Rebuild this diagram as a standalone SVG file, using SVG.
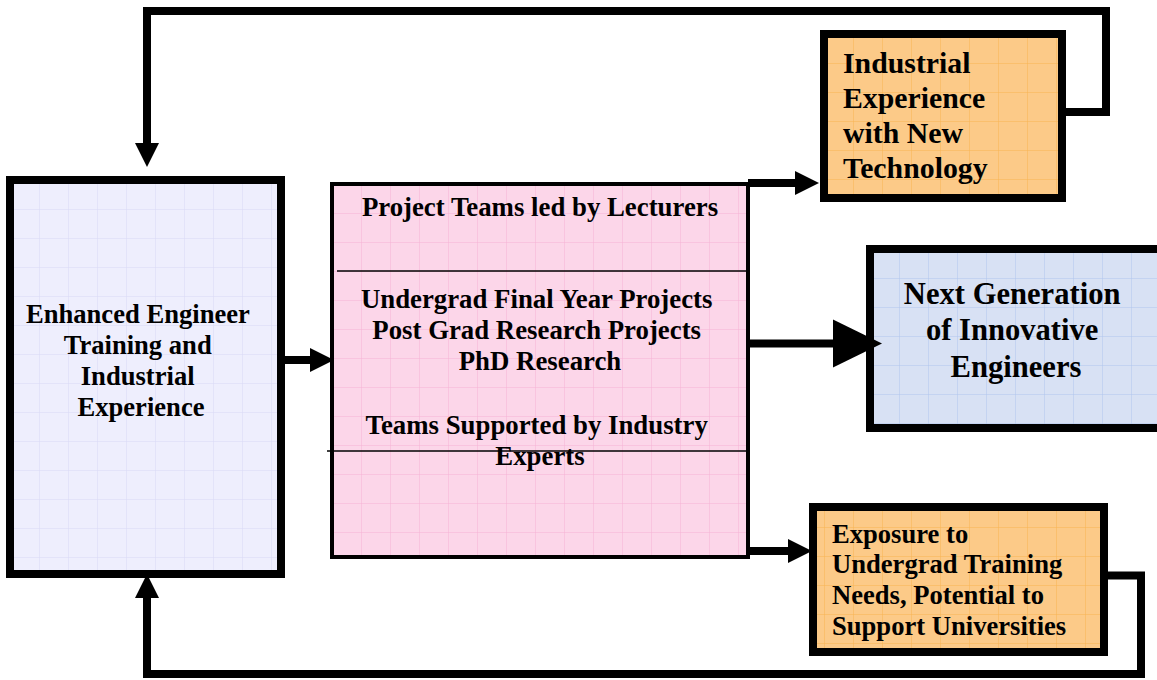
<svg xmlns="http://www.w3.org/2000/svg" width="1157" height="680" viewBox="0 0 1157 680">
<style>
.t{font-family:"Liberation Serif","Times New Roman",serif;font-weight:bold;fill:#000}
.c{text-anchor:middle}
.box{stroke:#000;stroke-width:8}
.con{fill:none;stroke:#000;stroke-width:8;stroke-linejoin:miter}
.div{stroke:#000;stroke-width:1.6}
</style>
<defs>
<pattern id="gL" patternUnits="userSpaceOnUse" width="29" height="29" x="10" y="180">
<rect width="29" height="29" fill="#eeeefd"/>
<path d="M29 0H0V29" fill="none" stroke="#d9d9f6" stroke-width="1"/>
</pattern>
<pattern id="gP" patternUnits="userSpaceOnUse" width="29" height="29" x="332" y="184">
<rect width="29" height="29" fill="#fcd6e9"/>
<path d="M29 0H0V29" fill="none" stroke="#f6b2d6" stroke-width="1"/>
</pattern>
<pattern id="gO" patternUnits="userSpaceOnUse" width="29" height="29" x="824" y="34">
<rect width="29" height="29" fill="#fcca88"/>
<path d="M29 0H0V29" fill="none" stroke="#f8b452" stroke-width="1"/>
</pattern>
<pattern id="gB" patternUnits="userSpaceOnUse" width="29" height="29" x="870" y="249">
<rect width="29" height="29" fill="#d8e1f4"/>
<path d="M29 0H0V29" fill="none" stroke="#b0c6ee" stroke-width="1"/>
</pattern>
<marker id="ah" markerUnits="userSpaceOnUse" markerWidth="24" markerHeight="24" refX="0" refY="12" orient="auto" overflow="visible">
<path d="M0 0L24 12L0 24Z" fill="#000"/>
</marker>
<marker id="ahBig" markerUnits="userSpaceOnUse" markerWidth="49" markerHeight="48" refX="0" refY="24" orient="auto" overflow="visible">
<path d="M0 0L49 24L0 48Z" fill="#000"/>
</marker>
</defs>
<rect width="1157" height="680" fill="#fff"/>

<g id="node-enhanced">
<rect class="box" x="10" y="180" width="271" height="394" fill="url(#gL)"/>
<text class="t c" font-size="26.6" x="141">
<tspan x="141" y="323">Enhanced Engineer</tspan>
<tspan x="141" y="354">Training and</tspan>
<tspan x="141" y="385">Industrial</tspan>
<tspan x="141" y="416">Experience</tspan>
</text>
</g>

<g id="node-projects">
<rect x="332" y="184" width="416" height="373" fill="url(#gP)" stroke="#000" stroke-width="4"/>
<line class="div" x1="337" y1="271" x2="746" y2="271"/>
<line class="div" x1="327" y1="451" x2="746" y2="451"/>
<text class="t c" font-size="26.8" x="540" y="216">Project Teams led by Lecturers</text>
<text class="t c" font-size="26.8" x="540">
<tspan x="540" y="308">Undergrad Final Year Projects</tspan>
<tspan x="540" y="339">Post Grad Research Projects</tspan>
<tspan x="540" y="370">PhD Research</tspan>
</text>
<text class="t c" font-size="26.8" x="540">
<tspan x="540" y="434">Teams Supported by Industry</tspan>
<tspan x="540" y="465">Experts</tspan>
</text>
</g>

<g id="node-industrial">
<rect class="box" x="824" y="34" width="238" height="164" fill="url(#gO)"/>
<text class="t" font-size="29.8">
<tspan x="843" y="73">Industrial</tspan>
<tspan x="843" y="108">Experience</tspan>
<tspan x="843" y="143">with New</tspan>
<tspan x="843" y="178">Technology</tspan>
</text>
</g>

<g id="node-nextgen">
<rect class="box" x="870" y="249" width="300" height="179" fill="url(#gB)"/>
<text class="t c" font-size="30.6">
<tspan x="1016" y="304">Next Generation</tspan>
<tspan x="1016" y="340">of Innovative</tspan>
<tspan x="1016" y="377">Engineers</tspan>
</text>
</g>

<g id="node-exposure">
<rect class="box" x="813" y="507" width="291" height="145" fill="url(#gO)"/>
<text class="t" font-size="26.6">
<tspan x="832" y="543">Exposure to</tspan>
<tspan x="832" y="573">Undergrad Training</tspan>
<tspan x="832" y="604">Needs, Potential to</tspan>
<tspan x="832" y="635">Support Universities</tspan>
</text>
</g>

<g id="connectors">
<path class="con" d="M285 360H310" marker-end="url(#ah)"/>
<path class="con" d="M748 183H795" marker-end="url(#ah)"/>
<path class="con" d="M748 551H788" marker-end="url(#ah)"/>
<path class="con" d="M750 343.5H833" stroke-width="15" marker-end="url(#ahBig)"/>
<path class="con" d="M1066 112H1106V11H147V143" marker-end="url(#ah)"/>
<path class="con" d="M1108 575.5H1141V674H147V598" marker-end="url(#ah)"/>
</g>
</svg>
